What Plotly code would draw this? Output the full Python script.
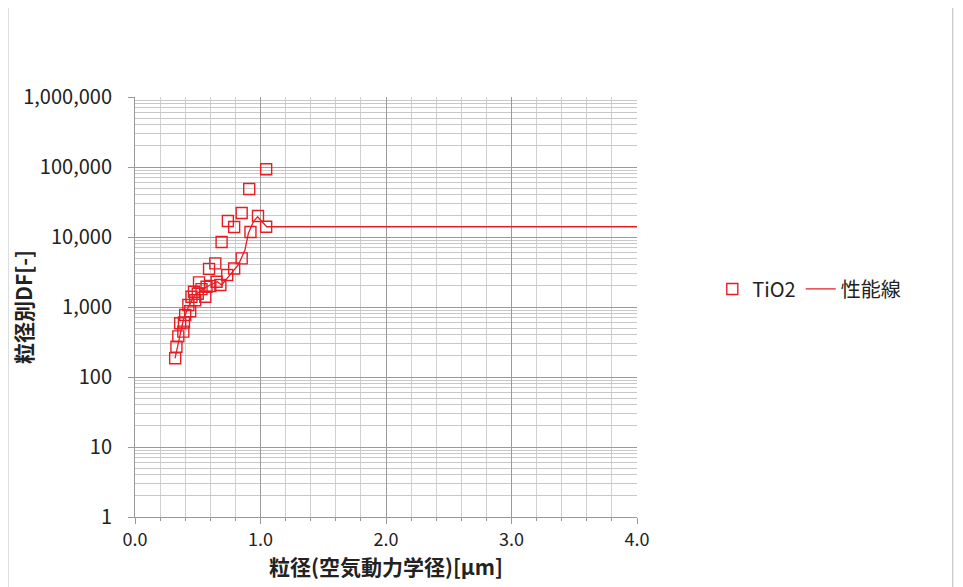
import plotly.graph_objects as go

# Measured data (TiO2)
tio2_x = [0.32, 0.33, 0.345, 0.36, 0.385, 0.40, 0.425, 0.44, 0.47, 0.48, 0.51, 0.53,
          0.56, 0.59, 0.60, 0.64, 0.65, 0.68, 0.69, 0.735, 0.74, 0.79, 0.79, 0.85,
          0.85, 0.91, 0.92, 0.98, 1.045, 1.045, 0.39, 0.45, 0.50, 0.57]
tio2_y = [185, 270, 380, 585, 445, 770, 1070, 870, 1650, 1250, 2250, 1800,
          1400, 3500, 2000, 4200, 2300, 2060, 8500, 2870, 16900, 13900, 3550, 22000,
          4950, 48500, 11800, 20000, 93000, 14000, 600, 1400, 1550, 1950]

# Performance line
perf_x = [0.319, 0.359, 0.385, 0.425, 0.478, 0.531, 0.598, 0.656, 0.69, 0.757,
          0.823, 0.876, 0.903, 0.943, 0.977, 1.049, 4.0]
perf_y = [185, 377, 652, 1010, 1484, 1750, 2060, 2300, 2060, 2870,
          3980, 6520, 11200, 16500, 19500, 14000, 14000]

y_tickvals = [1, 10, 100, 1000, 10000, 100000, 1000000]
y_ticktext = ["1", "10", "100", "1,000", "10,000", "100,000", "1,000,000"]
x_tickvals = [0, 1, 2, 3, 4]
x_ticktext = ["0.0", "1.0", "2.0", "3.0", "4.0"]

red = "rgb(230,30,36)"
font_family = "Noto Sans CJK JP"

fig = go.Figure()
fig.add_trace(go.Scatter(
    x=tio2_x, y=tio2_y, mode="markers", name="TiO2",
    marker=dict(symbol="square-open", size=11, color=red, line=dict(width=1.4, color=red)),
))
fig.add_trace(go.Scatter(
    x=perf_x, y=perf_y, mode="lines", name="性能線",
    line=dict(color=red, width=1.3),
))

fig.update_layout(
    width=963, height=587,
    margin=dict(l=127, r=334, t=89, b=78),
    paper_bgcolor="white", plot_bgcolor="white",
    font=dict(family=font_family, size=16, color="#222"),
    showlegend=True,
    legend=dict(orientation="h", x=1.15, xanchor="left", y=0.543, yanchor="middle",
                font=dict(size=20, color="#222"), itemwidth=30, bgcolor="rgba(0,0,0,0)"),
    shapes=[dict(type="rect", xref="paper", yref="paper",
                 x0=-0.253, x1=1.629, y0=-0.2, y1=1.217,
                 line=dict(color="#bbbbbb", width=1), layer="below")],
)
fig.update_xaxes(
    range=[0, 4], tickvals=x_tickvals, ticktext=x_ticktext,
    automargin=False,
    showgrid=True, gridcolor="#9a9a9a", gridwidth=1,
    minor=dict(dtick=0.2, showgrid=True, gridcolor="#d0d0d0", gridwidth=1,
               ticks="outside", ticklen=3, tickcolor="#999"),
    showline=True, linecolor="#999", linewidth=1,
    ticks="outside", ticklen=6, tickcolor="#999",
    zeroline=False,
    tickfont=dict(size=18, color="#222", family=font_family),
    title=dict(text="<b>粒径(空気動力学径)[μm]</b>", font=dict(size=21, color="#222"), standoff=4),
)
fig.update_yaxes(
    type="log", range=[0, 6], tickvals=y_tickvals, ticktext=y_ticktext,
    automargin=False,
    showgrid=True, gridcolor="#9a9a9a", gridwidth=1,
    minor=dict(dtick="D1", showgrid=True, gridcolor="#c8c8c8", gridwidth=1),
    showline=True, linecolor="#999", linewidth=1,
    ticks="outside", ticklen=6, tickcolor="#999",
    ticklabelstandoff=12,
    tickfont=dict(size=20, color="#222", family=font_family),
    title=dict(text="<b>粒径別DF[-]</b>", font=dict(size=21, color="#222"), standoff=6),
)

fig.write_html("out.html")
